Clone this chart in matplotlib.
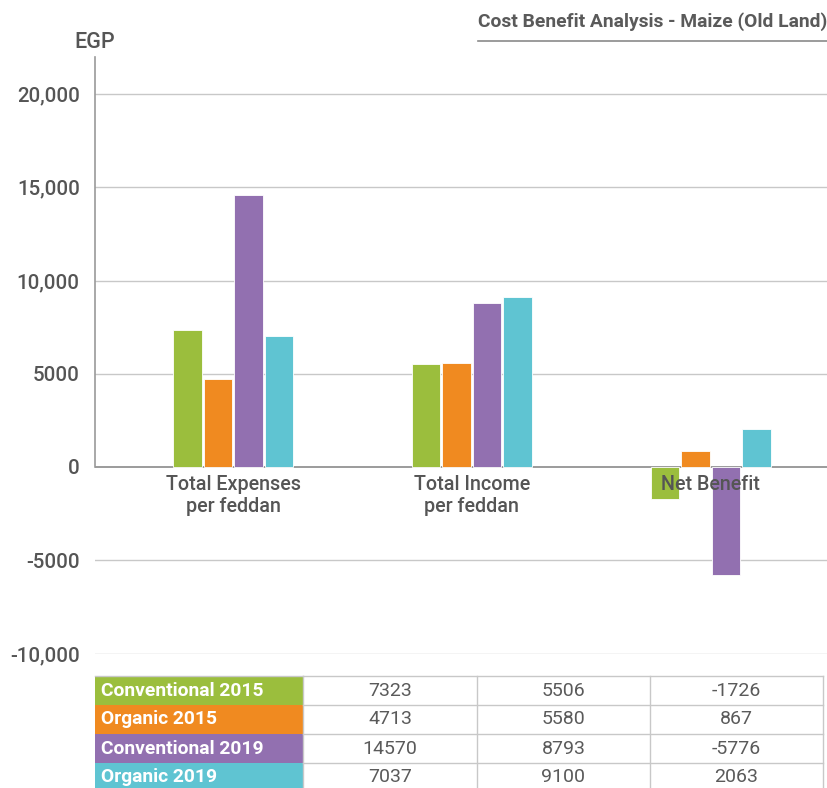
import matplotlib
matplotlib.use("Agg")
import matplotlib.pyplot as plt
from matplotlib.patches import Rectangle
from matplotlib.lines import Line2D
import numpy as np

plt.rcParams['font.family'] = ['Roboto', 'DejaVu Sans']

categories = ["Total Expenses\nper feddan", "Total Income\nper feddan", "Net Benefit"]
series = ["Conventional 2015", "Organic 2015", "Conventional 2019", "Organic 2019"]
conv_2015 = [7323, 5506, -1726]
org_2015 = [4713, 5580, 867]
conv_2019 = [14570, 8793, -5776]
org_2019 = [7037, 9100, 2063]
values = [conv_2015, org_2015, conv_2019, org_2019]
colors = ["#9BBE3D", "#F08A20", "#9270B0", "#5FC4D2"]
yticks = [20000, 15000, 10000, 5000, 0, -5000, -10000]
ytick_labels = ["20,000", "15,000", "10,000", "5000", "0", "-5000", "-10,000"]
title = "Cost Benefit Analysis - Maize (Old Land)"

W, H = 827, 788
fig = plt.figure(figsize=(W / 100, H / 100), dpi=100)

def fx(px):
    return px / W

def fy(py):
    return 1 - py / H

ax_left, ax_right = 95, 827
ax_bottom_px, ax_top_px = 653.5, 56.7
ax = fig.add_axes([fx(ax_left), fy(ax_bottom_px), fx(ax_right - ax_left),
                   (ax_bottom_px - ax_top_px) / H])
ax.set_ylim(-10000, 22000)
unit = 238.75
x0 = (233 - ax_left) / unit
ax.set_xlim(-x0, (ax_right - ax_left) / unit - x0)

for t in yticks:
    if t == 0:
        ax.axhline(t, color="#8a8a8a", lw=1.2, zorder=1)
    else:
        ax.axhline(t, color="#c8c8c8", lw=1.0, zorder=1)

x = np.arange(len(categories))
bw = 28.5 / unit
step = 30.5 / unit
for i, (vals, c) in enumerate(zip(values, colors)):
    ax.bar(x + (i - 1.5) * step, vals, width=bw, color=c, edgecolor="white",
           linewidth=0.6, zorder=2)

for s in ["top", "right", "bottom"]:
    ax.spines[s].set_visible(False)
ax.spines["left"].set_bounds(0, 22000)
ax.spines["left"].set_color("#9a9a9a")
ax.spines["left"].set_linewidth(1.2)
ax.set_xticks([])
ax.set_yticks(yticks)
ax.set_yticklabels(ytick_labels, fontsize=14.8, color="#555555", fontweight="medium")
ax.tick_params(axis="y", length=0, pad=11)

for xi, cat in zip(x, categories):
    ax.text(xi, -450, cat, ha="center", va="top", fontsize=14.2,
            color="#555555", linespacing=1.15, zorder=5, fontweight="medium")

fig.text(fx(95), fy(43), "EGP", ha="center", va="center", fontsize=15.5,
         color="#555555", fontweight="medium")

fig.text(fx(478), fy(22), title, ha="left", va="center", fontsize=13.9,
         fontweight="bold", color="#5a5a5a")
fig.add_artist(Line2D([fx(478), 1.0], [fy(41), fy(41)], color="#8a8a8a",
                      lw=1.2, transform=fig.transFigure))

tbl_top = 676
row_h = 29
col_edges = [95, 303, 477, 650, 823]
for r, (name, vals, c) in enumerate(zip(series, values, colors)):
    y_top = tbl_top + r * row_h
    y_bot = y_top + row_h
    fig.add_artist(Rectangle((fx(col_edges[0]), fy(y_bot)),
                             fx(col_edges[1] - col_edges[0]), row_h / H,
                             facecolor=c, edgecolor="none",
                             transform=fig.transFigure))
    fig.text(fx(col_edges[0] + 6), fy(y_top + row_h / 2), name, ha="left",
             va="center", fontsize=13.9, fontweight="bold", color="white")
    for j, v in enumerate(vals):
        xc = (col_edges[j + 1] + col_edges[j + 2]) / 2
        fig.text(fx(xc), fy(y_top + row_h / 2), f"{v}", ha="center",
                 va="center", fontsize=14, color="#5a5a5a")

line_kw = dict(color="#c8c8c8", lw=1.0, transform=fig.transFigure)
for r in range(len(series) + 1):
    yy = tbl_top + r * row_h
    fig.add_artist(Line2D([fx(col_edges[1]), fx(col_edges[-1])], [fy(yy), fy(yy)], **line_kw))
fig.add_artist(Line2D([fx(col_edges[0]), fx(col_edges[1])], [fy(tbl_top), fy(tbl_top)], **line_kw))
for ce in col_edges[1:]:
    fig.add_artist(Line2D([fx(ce), fx(ce)], [fy(tbl_top), 0], **line_kw))

fig.savefig("out.png", dpi=100)
